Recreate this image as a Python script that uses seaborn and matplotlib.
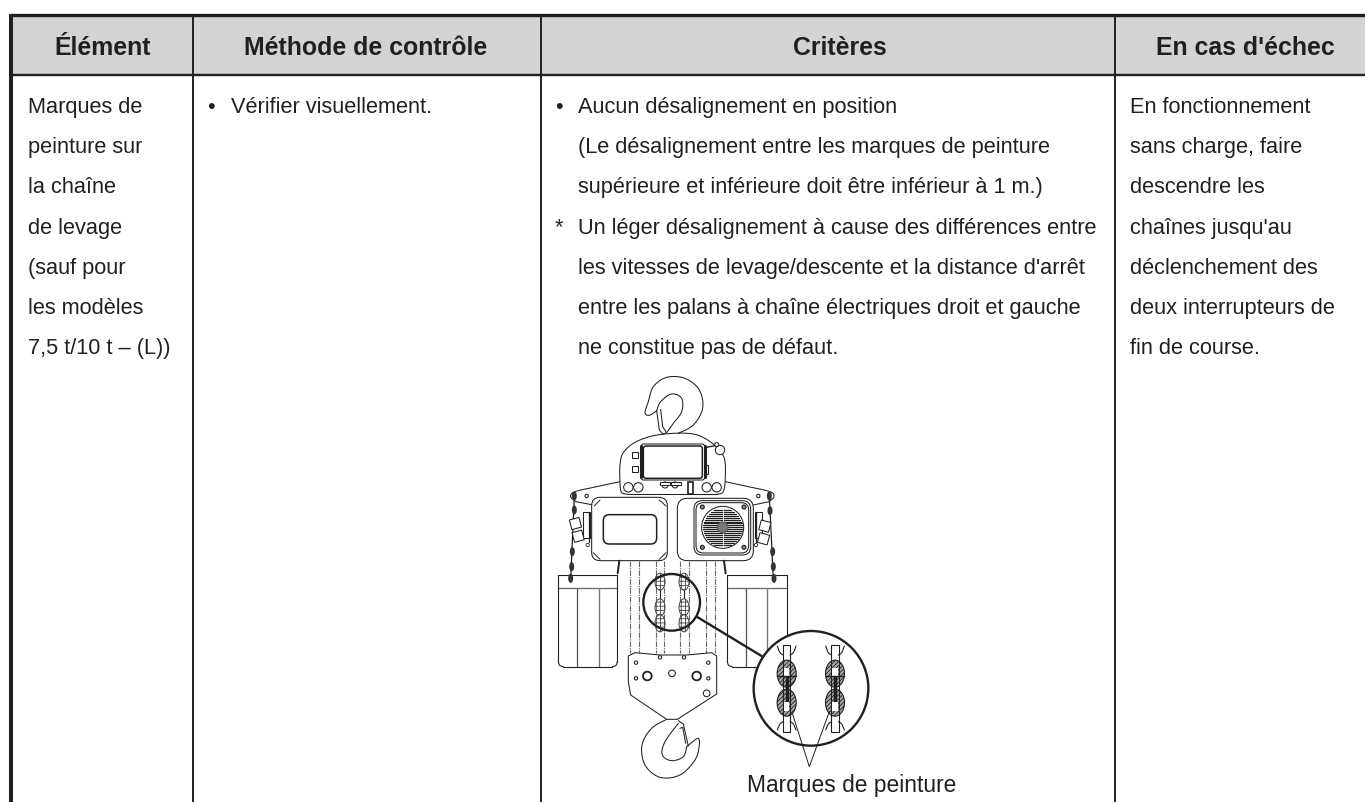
import numpy as np
import seaborn as sns
import matplotlib
matplotlib.use("Agg")
import matplotlib.pyplot as plt
from matplotlib.patches import Circle, Ellipse, FancyBboxPatch, Rectangle, Polygon

HEADERS = ["Élément", "Méthode de contrôle", "Critères", "En cas d'échec"]
HEADER_X = [102.5, 366, 840, 1245.5]
COL_LINES = [192.7, 541.3, 1115]
ITEM = ["Marques de", "peinture sur", "la chaîne", "de levage", "(sauf pour", "les modèles", "7,5 t/10 t – (L))"]
METHOD = ["Vérifier visuellement."]
CRITERIA = ["Aucun désalignement en position",
            "(Le désalignement entre les marques de peinture",
            "supérieure et inférieure doit être inférieur à 1 m.)",
            "Un léger désalignement à cause des différences entre",
            "les vitesses de levage/descente et la distance d'arrêt",
            "entre les palans à chaîne électriques droit et gauche",
            "ne constitue pas de défaut."]
ACTION = ["En fonctionnement", "sans charge, faire", "descendre les", "chaînes jusqu'au",
          "déclenchement des", "deux interrupteurs de", "fin de course."]
CALLOUT = "Marques de peinture"

INK = "#231f20"
sns.set_theme(style="white")
plt.rcParams["font.family"] = ["Liberation Sans", "DejaVu Sans"]
plt.rcParams["hatch.linewidth"] = 0.6

fig, ax = plt.subplots(figsize=(13.65, 8.02), dpi=100)
fig.subplots_adjust(0, 0, 1, 1)
ax.set_xlim(0, 1365); ax.set_ylim(802, 0)
sns.despine(ax=ax, left=True, bottom=True)
ax.set_xticks([]); ax.set_yticks([])

# table frame
ax.add_patch(Rectangle((11, 15), 1354, 60, fc="#d1d3d4", ec="none"))
ax.plot([9.5, 1365], [15, 15], color=INK, lw=2.4, solid_capstyle="butt")
ax.plot([9.5, 1365], [75.3, 75.3], color=INK, lw=1.7, solid_capstyle="butt")
ax.plot([11.3, 11.3], [13.5, 802], color=INK, lw=2.9, solid_capstyle="butt")
for x in COL_LINES:
    ax.plot([x, x], [15, 802], color=INK, lw=1.4, solid_capstyle="butt")

# text
for h, x in zip(HEADERS, HEADER_X):
    ax.text(x, 55, h, ha="center", va="baseline", fontsize=17.9, fontweight="bold", color=INK)
BASE, STEP, FS = 113, 40.2, 15.7
def col(lines, x):
    for i, s in enumerate(lines):
        ax.text(x, BASE + i * STEP, s, ha="left", va="baseline", fontsize=FS, color=INK)
col(ITEM, 28); col(METHOD, 231); col(CRITERIA, 578); col(ACTION, 1130)
ax.text(207, BASE, "•", ha="left", va="baseline", fontsize=FS, color=INK)
ax.text(555, BASE, "•", ha="left", va="baseline", fontsize=FS, color=INK)
ax.text(555, BASE + 3 * STEP, "*", ha="left", va="baseline", fontsize=FS, color=INK)
ax.text(747, 792, CALLOUT, ha="left", va="baseline", fontsize=16.4, color=INK)

# ---- hoist illustration (coordinates in 3x crop space) ----
X = lambda v: 540 + np.asarray(v, float) / 3
Y = lambda v: 370 + np.asarray(v, float) / 3
LW = 0.75
def smooth(pts, n=14):
    p = np.asarray(pts, float)
    p = np.vstack([p[0], p, p[-1]])
    out = []
    for i in range(1, len(p) - 2):
        for t in np.linspace(0, 1, n, endpoint=False):
            a, b, c, d = p[i - 1], p[i], p[i + 1], p[i + 2]
            out.append(0.5 * (2 * b + (c - a) * t + (2 * a - 5 * b + 4 * c - d) * t * t + (3 * b - a - 3 * c + d) * t ** 3))
    out.append(p[-2])
    return np.array(out)
def curve(pts, lw=LW, color=INK, **kw):
    s = smooth(pts)
    ax.plot(X(s[:, 0]), Y(s[:, 1]), color=color, lw=lw, solid_capstyle="round", **kw)
def line(pts, lw=LW, color=INK, **kw):
    s = np.asarray(pts, float)
    ax.plot(X(s[:, 0]), Y(s[:, 1]), color=color, lw=lw, **kw)
def circ(x, y, r, lw=LW, fc="white", ec=INK, z=3, **kw):
    ax.add_patch(Circle((X(x), Y(y)), r / 3, fc=fc, ec=ec, lw=lw, zorder=z, **kw))
def rrect(x0, y0, x1, y1, r, lw=LW, fc="none", ec=INK, z=2):
    ax.add_patch(FancyBboxPatch((X(x0 + r), Y(y0 + r)), (x1 - x0 - 2 * r) / 3, (y1 - y0 - 2 * r) / 3,
                                boxstyle=f"round,pad={r/3},rounding_size={r/3}", fc=fc, ec=ec, lw=lw, zorder=z))

# top hook
curve([(415, 190), (460, 165), (488, 115), (478, 60), (435, 25), (380, 22), (340, 50), (325, 95), (315, 128), (328, 136), (350, 122)])
curve([(350, 122), (362, 95), (395, 72), (425, 85), (425, 125), (400, 160), (380, 188)])
line([(350, 122), (358, 180), (368, 192), (380, 188)])
line([(362, 118), (368, 170), (378, 185)])

# top housing
curve([(240, 345), (240, 285), (252, 245), (295, 212), (365, 193), (460, 192), (520, 222), (552, 262), (556, 320), (550, 365), (530, 373)], lw=LW)
curve([(240, 345), (245, 368), (265, 373)], lw=LW)
line([(265, 373), (530, 373)])
rrect(310, 228, 487, 325, 8, lw=1.1)
rrect(303, 222, 494, 330, 8)
line([(303, 228), (303, 322)], lw=2.2); line([(494, 228), (494, 322)], lw=2.2)
for y in (255, 297):
    ax.add_patch(Rectangle((X(277), Y(y - 8)), 6, 5.5, fc="white", ec=INK, lw=LW))
ax.add_patch(Rectangle((X(494), Y(285)), 3.5, 9, fc="white", ec=INK, lw=LW))
for x in (265, 295, 500, 530):
    circ(x, 352, 14)
circ(375, 345, 9); circ(405, 345, 9)
ax.add_patch(Rectangle((X(360), Y(335)), 10, 3.2, fc="white", ec=INK, lw=LW, zorder=3))
ax.add_patch(Rectangle((X(392), Y(335)), 10, 3.2, fc="white", ec=INK, lw=LW, zorder=3))
ax.add_patch(Rectangle((X(443), Y(335)), 5.5, 12, fc="white", ec=INK, lw=1.2, zorder=4))
circ(540, 240, 14); circ(530, 224, 6)
line([(500, 232), (530, 226)], lw=1.0)

# arms
curve([(240, 335), (170, 350), (105, 365), (92, 380), (108, 395)])
line([(108, 395), (160, 405)])
curve([(556, 335), (625, 350), (690, 365), (702, 380), (687, 395)])
line([(687, 395), (640, 405)])
circ(140, 378, 5); circ(655, 378, 5)

# motor boxes
rrect(155, 382, 382, 572, 25, fc="white")
rrect(190, 434, 350, 522, 18, lw=1.1)
rrect(412, 385, 640, 572, 30, fc="white")
rrect(462, 392, 632, 555, 25, fc="white")
rrect(468, 398, 626, 549, 22)
circ(548, 472, 63, fc="white", z=3)
for k in range(-9, 10):
    yy = 472 + k * 5.8
    half = np.sqrt(max(58 ** 2 - (yy - 472) ** 2, 0))
    line([(548 - half, yy), (548 + half, yy)], lw=0.9, zorder=4)
line([(548, 415), (548, 530)], lw=0.6, color="white", zorder=5)
circ(548, 472, 16, fc="#777777", ec="#555555", z=5)
for x, y in ((487, 411), (612, 411), (487, 532), (612, 532)):
    circ(x, y, 6, fc="#888888", lw=0.8, z=5)
for x1, y1, x2, y2 in ((180, 390, 163, 408), (358, 390, 378, 408), (180, 568, 160, 548), (358, 568, 378, 548)):
    line([(x1, y1), (x2, y2)], lw=0.7)

# suspended chains and nuts
for x0, y0, x1, y1 in ((103, 378, 92, 628), (688, 378, 700, 628)):
    line([(x0, y0), (x1, y1)], lw=0.9)
for x, y in ((103, 378), (103, 420), (97, 545), (95, 590), (92, 625), (688, 378), (690, 422), (698, 545), (700, 590), (702, 625)):
    ax.add_patch(Ellipse((X(x), Y(y)), 5, 9, fc="#333333", ec="none", zorder=5))
for x, y, s in ((100, 462, -1), (108, 500, -1), (676, 462, 1), (672, 500, 1)):
    ax.add_patch(Rectangle((X(x - 12), Y(y - 12)), 10, 10, angle=15 * s, fc="white", ec=INK, lw=LW, zorder=5))
for x in (130, 645):
    ax.add_patch(Rectangle((X(x), Y(425)), 6.5, 26, fc="white", ec=INK, lw=LW, zorder=1))
line([(148, 425), (148, 515)], lw=0.9); line([(647, 425), (647, 515)], lw=0.9)
circ(143, 525, 5, lw=0.6); circ(648, 525, 5, lw=0.6)

# counterweight bags
for x0, x1, a, b in ((55, 232, 112, 178), (562, 740, 617, 682)):
    line([(x0, 615), (x1, 615)], lw=0.8)
    line([(x0, 655), (x1, 655)], lw=0.9, color="#666666")
    line([(a, 655), (a, 890)], lw=0.9, color="#555555")
    line([(b, 655), (b, 890)], lw=1.0, color="#777777")
    line([(x0, 615), (x0, 875)], lw=0.8); line([(x1, 615), (x1, 875)], lw=0.8)
    line([(x0 + 15, 890), (x1 - 15, 890)], lw=0.8)
    curve([(x0, 875), (x0 + 4, 886), (x0 + 15, 890)], lw=0.8)
    curve([(x1, 875), (x1 - 4, 886), (x1 - 15, 890)], lw=0.8)
for x, d in ((238, -1), (552, 1)):
    line([(x, 572), (x + d * 5, 610)], lw=1.4)

# chain falls
for x in (270, 297, 347, 373, 420, 447, 497, 525):
    line([(x, 574), (x, 850)], lw=0.8, color="#666666", ls=(0, (5, 1, 1, 1)))

# magnifier ring on the chain
circ(395, 697, 85, lw=1.7, fc="none", z=6)
for x in (360, 432):
    for y in (635, 712, 760):
        ax.add_patch(Ellipse((X(x), Y(y)), 10, 17, fc="white", ec="#444444", lw=0.7, hatch="++++", zorder=5))
    line([(x, 615), (x, 775)], lw=0.8)

# leader line and enlarged circle
line([(470, 740), (668, 860)], lw=1.7, zorder=6)
circ(813, 955, 172, lw=1.7, fc="white", z=6)
for x in (740, 885):
    for y in (911, 998):
        ax.add_patch(Ellipse((X(x), Y(y)), 19, 27, fc="#aaaaaa", ec=INK, lw=0.8, hatch="////////", zorder=7))
    ax.add_patch(Rectangle((X(x - 11), Y(825)), 7.3, 86.7, fc="none", ec=INK, lw=0.8, zorder=8))
    ax.add_patch(Rectangle((X(x - 8), Y(895)), 5.3, 8, fc="white", ec="none", zorder=9))
    ax.add_patch(Rectangle((X(x - 8), Y(995)), 5.3, 9, fc="white", ec="none", zorder=9))
    line([(x - 28, 918), (x + 28, 918)], lw=1.0, zorder=9)
    line([(x, 918), (x, 995)], lw=2.5, zorder=8)
    curve([(x - 28, 828), (x - 20, 848), (x - 10, 855)], lw=0.8, zorder=8)
    curve([(x + 28, 828), (x + 20, 848), (x + 10, 855)], lw=0.8, zorder=8)
    curve([(x - 28, 1080), (x - 20, 1062), (x - 10, 1055)], lw=0.8, zorder=8)
    curve([(x + 28, 1080), (x + 20, 1062), (x + 10, 1055)], lw=0.8, zorder=8)
line([(757, 1030), (808, 1190), (868, 1025)], lw=0.7, zorder=9)

# lower block
ax.add_patch(Polygon(np.c_[X([265, 285, 360, 440, 515, 530, 530, 412, 380, 272, 265]),
                           Y([858, 848, 855, 855, 848, 858, 972, 1048, 1048, 975, 935])],
                     fc="white", ec=INK, lw=LW, zorder=3))
for x, y, r, lw in ((322, 918, 13, 1.3), (470, 918, 13, 1.3), (396, 910, 10, LW), (288, 878, 5, LW),
                    (505, 878, 5, LW), (288, 925, 5, LW), (505, 925, 5, LW), (500, 970, 10, LW),
                    (360, 862, 5, LW), (432, 862, 5, LW)):
    circ(x, y, r, lw=lw, z=4)

# lower hook
curve([(380, 1048), (335, 1075), (306, 1125), (315, 1185), (360, 1222), (420, 1215), (465, 1170), (478, 1125), (474, 1105), (455, 1118), (440, 1130)])
curve([(440, 1130), (430, 1160), (395, 1172), (367, 1155), (375, 1115), (415, 1060)])
line([(415, 1052), (430, 1062), (445, 1128)])
line([(420, 1075), (428, 1072), (437, 1120)])

fig.savefig("out.png", dpi=100, facecolor="white")
